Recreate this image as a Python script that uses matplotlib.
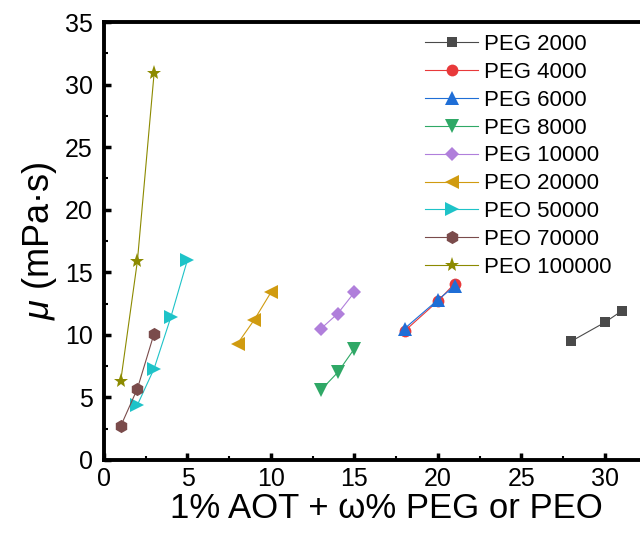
import matplotlib
matplotlib.use('Agg')
import matplotlib.pyplot as plt
from matplotlib.ticker import MultipleLocator

plt.rcParams['font.family'] = ['Liberation Sans', 'DejaVu Sans']
plt.rcParams['mathtext.fontset'] = 'custom'
plt.rcParams['mathtext.it'] = 'Liberation Sans:italic'

# data
labels = ['PEG 2000', 'PEG 4000', 'PEG 6000', 'PEG 8000', 'PEG 10000',
          'PEO 20000', 'PEO 50000', 'PEO 70000', 'PEO 100000']
x_vals = [
    [28, 30, 31],
    [18, 20, 21],
    [18, 20, 21],
    [13, 14, 15],
    [13, 14, 15],
    [8, 9, 10],
    [2, 3, 4, 5],
    [1, 2, 3],
    [1, 2, 3],
]
y_vals = [
    [9.5, 11.0, 11.9],
    [10.3, 12.7, 14.1],
    [10.5, 12.8, 13.9],
    [5.6, 7.0, 8.9],
    [10.5, 11.7, 13.4],
    [9.3, 11.2, 13.4],
    [4.4, 7.3, 11.4, 16.0],
    [2.7, 5.7, 10.1],
    [6.3, 15.9, 30.9],
]
colors = ['#4a4a4a', '#e8393a', '#1f6ed6', '#2fa866', '#b07fdb',
          '#d09b10', '#1ec3c8', '#7a4b4b', '#8c8a00']
markers = ['s', 'o', '^', 'v', 'D', '<', '>', 'h', '*']
msizes = [7.5, 8.5, 9.5, 9.5, 7.5, 10.5, 10.5, 9.5, 11]

fig = plt.figure(figsize=(6.4, 5.38), dpi=100)
ax = fig.add_axes([0.1625, 0.145, 0.84, 0.814])

for xs, ys, lab, c, m, ms in zip(x_vals, y_vals, labels, colors, markers, msizes):
    ax.plot(xs, ys, color=c, marker=m, markersize=ms, lw=0.8,
            markeredgewidth=0, label=lab)

ax.set_xlim(0, 32.2)
ax.set_ylim(0, 35)
ax.xaxis.set_major_locator(MultipleLocator(5))
ax.xaxis.set_minor_locator(MultipleLocator(2.5))
ax.yaxis.set_major_locator(MultipleLocator(5))
ax.yaxis.set_minor_locator(MultipleLocator(2.5))
ax.tick_params(which='major', direction='in', length=5, width=2.5,
               labelsize=18)
ax.tick_params(axis='y', which='major', pad=8)
ax.tick_params(axis='x', which='major', pad=5)
ax.tick_params(which='minor', direction='in', length=3, width=1.5)
for sp in ax.spines.values():
    sp.set_linewidth(2.8)

ax.set_xlabel('1% AOT + ω% PEG or PEO', fontsize=25)
ax.xaxis.set_label_coords(0.526, -0.072)
ax.set_ylabel(r'$\mu$ (mPa·s)', fontsize=26, labelpad=4)

ax.legend(loc='upper left', bbox_to_anchor=(0.664, 0.937),
          bbox_transform=fig.transFigure, frameon=False, fontsize=16,
          handlelength=2.4, handletextpad=0.25, labelspacing=0.31,
          borderpad=0, borderaxespad=0)

fig.savefig('out.png', dpi=100)
